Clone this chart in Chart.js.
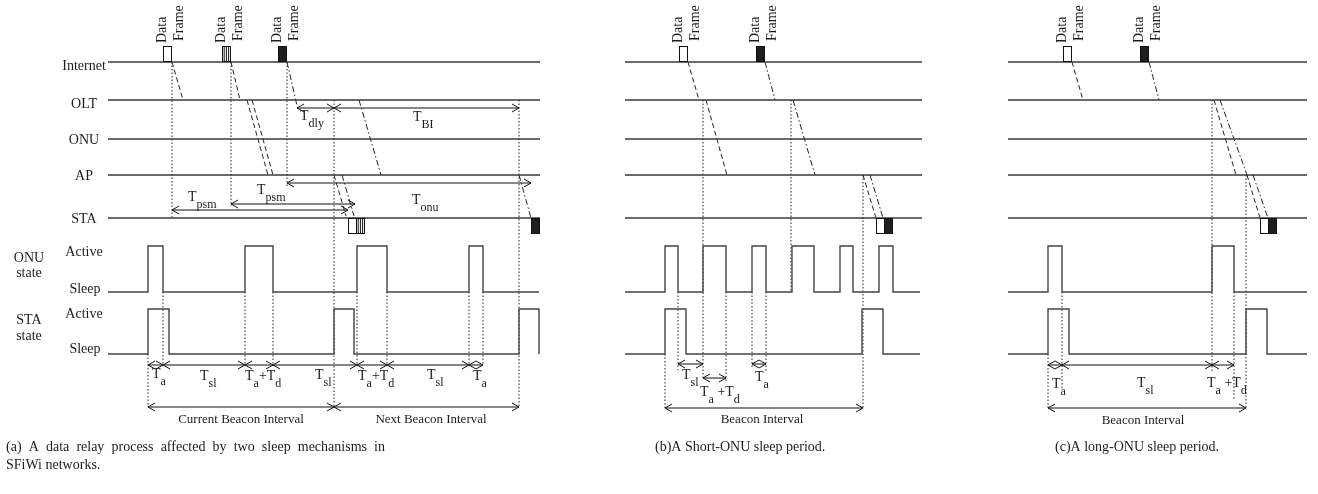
<!DOCTYPE html>
<html>
<head>
<meta charset="utf-8">
<script src="https://cdn.jsdelivr.net/npm/chart.js@4/dist/chart.umd.min.js"></script>
<style>
  html, body { margin: 0; padding: 0; background: #fff; }
  #wrap { width: 1318px; height: 494px; }
</style>
</head>
<body>
<div id="wrap"><canvas id="diagram" width="1318" height="494"></canvas></div>
<script>
// time axis runs left to right, levels top to bottom (same units as the figure)
const laneNames = ['Internet', 'OLT', 'ONU', 'AP', 'STA'];
const laneY = [62, 100, 139, 175, 218];
const laneLabelY = [66, 104, 140, 176, 219];
const laneSpans = [[108, 540], [625, 922], [1008, 1307]];

// state levels: [sleep, active]
const onuLevel = [292, 246];
const staLevel = [354, 309];
const stateSpans = [[108, 539], [625, 920], [1008, 1307]];

// active periods [start, end]
const onuPulsesA = [[148, 163], [245, 273], [357, 387], [469, 483]];
const staPulsesA = [[148, 169], [334, 354], [519, 539]];
const onuPulsesB = [[665, 678], [703, 726], [752, 766], [792, 814], [840, 853], [879, 893]];
const staPulsesB = [[665, 686], [862, 883]];
const onuPulsesC = [[1048, 1062], [1212, 1234]];
const staPulsesC = [[1048, 1069], [1246, 1267]];

// data frames [start, top, kind]
const frames = [
    [163, 46, 'open'], [222, 46, 'striped'], [278, 46, 'solid'],
    [348, 218, 'open'], [356, 218, 'striped'], [531, 218, 'solid'],
    [679, 46, 'open'], [756, 46, 'solid'], [876, 218, 'open'], [884, 218, 'solid'],
    [1063, 46, 'open'], [1140, 46, 'solid'], [1260, 218, 'open'], [1268, 218, 'solid']
];

// frame propagation [t1, y1, t2, y2, style]
const hops = [
    [172, 62, 183, 100, 'dash'], [231, 62, 240, 100, 'dash'],
    [247, 100, 268, 175, 'dash'], [252, 100, 273, 175, 'dash'],
    [287, 62, 298, 110, 'dashdot'], [359, 100, 381, 175, 'dashdot'],
    [334, 175, 346, 216, 'dash'], [342, 175, 354, 216, 'dashdot'],
    [519, 175, 531, 218, 'dashdot'],
    [688, 62, 699, 100, 'dash'], [706, 100, 727, 175, 'dash'],
    [765, 62, 775, 100, 'dashdot'], [793, 100, 815, 175, 'dashdot'],
    [863, 175, 876, 218, 'dash'], [870, 175, 883, 218, 'dashdot'],
    [1072, 62, 1083, 100, 'dash'], [1149, 62, 1159, 100, 'dashdot'],
    [1214, 100, 1236, 175, 'dash'], [1220, 100, 1247, 175, 'dashdot'],
    [1247, 175, 1260, 218, 'dash'], [1253, 175, 1268, 218, 'dashdot']
];

// dotted guides [t, yTop, yBottom]
const guides = [
    [172, 62, 218], [231, 62, 206], [287, 62, 188], [334, 100, 407], [519, 100, 407],
    [148, 354, 407], [163, 292, 365], [245, 292, 365], [273, 292, 365],
    [357, 292, 365], [387, 292, 365], [469, 292, 365], [483, 292, 365],
    [703, 100, 378], [791, 100, 292], [863, 175, 408], [665, 354, 408],
    [678, 292, 370], [726, 292, 382], [752, 292, 368], [766, 292, 372],
    [1212, 100, 373], [1246, 175, 408], [1048, 354, 408], [1062, 292, 388], [1234, 292, 400]
];

// double-headed intervals [t1, t2, y]
const intervals = [
    [297, 334, 108], [334, 519, 108], [172, 348, 210], [231, 355, 204], [287, 531, 183],
    [148, 163, 365], [163, 245, 365], [245, 273, 365], [273, 357, 365],
    [357, 387, 365], [387, 469, 365], [469, 483, 365], [148, 334, 407], [334, 519, 407],
    [678, 703, 364], [703, 726, 378], [752, 766, 364], [665, 863, 408],
    [1048, 1062, 365], [1062, 1212, 365], [1212, 1234, 365], [1048, 1246, 408]
];

// interval labels [t, y, text]  ("_" starts a subscript)
const timeLabels = [
    [300, 116, 'T_dly'], [413, 117, 'T_BI'], [188, 197, 'T_psm'], [257, 190, 'T_psm'],
    [412, 200, 'T_onu'],
    [152, 374, 'T_a'], [200, 376, 'T_sl'], [245, 376, 'T_a+T_d'], [315, 375, 'T_sl'],
    [358, 376, 'T_a+T_d'], [427, 375, 'T_sl'], [473, 376, 'T_a'],
    [682, 375, 'T_sl'], [700, 392, 'T_a +T_d'], [755, 377, 'T_a'],
    [1052, 384, 'T_a'], [1137, 383, 'T_sl'], [1207, 383, 'T_a +T_d']
];

const stateLabels = [
    [29, 258, 'ONU'], [29, 273, 'state'], [84, 252, 'Active'], [85, 289, 'Sleep'],
    [29, 320, 'STA'], [29, 336, 'state'], [84, 314, 'Active'], [85, 349, 'Sleep']
];

const beaconLabels = [
    [241, 420, 'Current Beacon Interval'], [431, 420, 'Next Beacon Interval'],
    [762, 420, 'Beacon Interval'], [1143, 421, 'Beacon Interval']
];

// captions [left, y, text, justified width or 0]
const captions = [
    [6, 447, '(a) A data relay process affected by two sleep mechanisms in', 379],
    [6, 465, 'SFiWi networks.', 0],
    [655, 447, '(b)A Short-ONU sleep period.', 0],
    [1055, 447, '(c)A long-ONU sleep period.', 0]
];

const serif = '"Liberation Serif", "Times New Roman", serif';
const ink = '#1c1c1c';
const dashes = { dash: [5, 3], dashdot: [6, 2.5, 1.5, 2.5], dot: [1.5, 2] };

function line(points, color, width, dash) {
    return {
        data: points,
        showLine: true,
        borderColor: color,
        borderWidth: width,
        borderDash: dash || [],
        pointRadius: 0,
        fill: false
    };
}

function stepPoints(span, pulses, level) {
    const [lo, hi] = level;
    const pts = [{ x: span[0], y: lo }];
    pulses.forEach(([s, e]) => {
        pts.push({ x: s, y: lo }, { x: s, y: hi }, { x: e, y: hi }, { x: e, y: lo });
    });
    pts.push({ x: span[1], y: lo });
    return pts;
}

const datasets = [];
laneSpans.forEach(span => {
    laneY.forEach(yv => datasets.push(line([{ x: span[0], y: yv }, { x: span[1], y: yv }], '#3a3a3a', 1.3)));
});
[[onuPulsesA, staPulsesA], [onuPulsesB, staPulsesB], [onuPulsesC, staPulsesC]].forEach(([onu, sta], i) => {
    datasets.push(line(stepPoints(stateSpans[i], onu, onuLevel), '#444', 1.4));
    datasets.push(line(stepPoints(stateSpans[i], sta, staLevel), '#444', 1.4));
});
guides.forEach(([t, a, b]) => datasets.push(line([{ x: t, y: a }, { x: t, y: b }], '#222', 1, dashes.dot)));
hops.forEach(([t1, y1, t2, y2, s]) => datasets.push(line([{ x: t1, y: y1 }, { x: t2, y: y2 }], '#222', 1, dashes[s])));
intervals.forEach(([t1, t2, yv]) => datasets.push(line([{ x: t1, y: yv }, { x: t2, y: yv }], '#111', 1)));

function drawRich(ctx, text, x, y, size, subSize, drop) {
    const parts = text.split(/_([A-Za-z]+)/);
    let cx = x;
    parts.forEach((p, i) => {
        if (!p) return;
        const sub = i % 2 === 1;
        ctx.font = (sub ? subSize : size) + 'px ' + serif;
        ctx.fillText(p, cx, sub ? y + drop : y);
        cx += ctx.measureText(p).width;
    });
}

// spread words over a given width, like a justified paper column
function drawJustified(ctx, text, x, y, width) {
    const words = text.split(' ');
    const used = words.reduce((s, w) => s + ctx.measureText(w).width, 0);
    const gap = (width - used) / (words.length - 1);
    let cx = x;
    words.forEach(w => {
        ctx.fillText(w, cx, y);
        cx += ctx.measureText(w).width + gap;
    });
}

const diagramPlugin = {
    id: 'diagram',
    afterDatasetsDraw(chart) {
        const { ctx, scales: { x, y } } = chart;
        const px = v => x.getPixelForValue(v);
        const py = v => y.getPixelForValue(v);
        ctx.save();

        // data frames
        frames.forEach(([t, top, kind]) => {
            const l = px(t), r = px(t + 9), tp = py(top), bt = py(top + 16);
            ctx.setLineDash([]);
            ctx.lineWidth = 1;
            ctx.strokeStyle = '#111';
            ctx.fillStyle = kind === 'solid' ? '#1e1e1e' : '#fff';
            ctx.fillRect(l, tp, r - l, bt - tp);
            if (kind === 'striped') {
                ctx.beginPath();
                [2.2, 4.4, 6.6].forEach(d => { ctx.moveTo(l + d, tp); ctx.lineTo(l + d, bt); });
                ctx.stroke();
            }
            ctx.strokeRect(l + 0.5, tp + 0.5, r - l - 1, bt - tp - 1);
        });

        // arrow heads
        ctx.strokeStyle = '#111';
        ctx.lineWidth = 1;
        intervals.forEach(([t1, t2, yv]) => {
            const yy = py(yv);
            [[px(t1), 1], [px(t2), -1]].forEach(([hx, dir]) => {
                ctx.beginPath();
                ctx.moveTo(hx + dir * 7, yy - 4);
                ctx.lineTo(hx, yy);
                ctx.lineTo(hx + dir * 7, yy + 4);
                ctx.stroke();
            });
        });

        ctx.fillStyle = ink;
        ctx.textBaseline = 'middle';

        // lane names
        ctx.textAlign = 'center';
        ctx.font = '14px ' + serif;
        laneNames.forEach((n, i) => ctx.fillText(n, px(84), py(laneLabelY[i])));
        stateLabels.forEach(([t, yv, s]) => ctx.fillText(s, px(t), py(yv)));

        // "Data Frame" tags over incoming frames
        frames.filter(f => f[1] < laneY[0]).forEach(([t]) => {
            [['Data', -1, 43], ['Frame', 16.5, 41]].forEach(([w, dx, yv]) => {
                ctx.save();
                ctx.translate(px(t + dx), py(yv));
                ctx.rotate(-Math.PI / 2);
                ctx.textAlign = 'left';
                ctx.fillText(w, 0, 0);
                ctx.restore();
            });
        });

        // interval names
        ctx.textAlign = 'left';
        timeLabels.forEach(([t, yv, s]) => drawRich(ctx, s, px(t), py(yv), 14, 12, 8));

        ctx.textAlign = 'center';
        ctx.font = '13px ' + serif;
        beaconLabels.forEach(([t, yv, s]) => ctx.fillText(s, px(t), py(yv)));

        ctx.textAlign = 'left';
        ctx.font = '14px ' + serif;
        captions.forEach(([t, yv, s, w]) => {
            if (w) drawJustified(ctx, s, px(t), py(yv), w);
            else ctx.fillText(s, px(t), py(yv));
        });

        ctx.restore();
    }
};

new Chart(document.getElementById('diagram').getContext('2d'), {
    type: 'scatter',
    data: { datasets: datasets },
    options: {
        responsive: false,
        animation: false,
        devicePixelRatio: 1,
        layout: { padding: 0 },
        plugins: { legend: { display: false }, tooltip: { enabled: false } },
        scales: {
            x: { type: 'linear', min: 0, max: 1318, display: false },
            y: { type: 'linear', min: 0, max: 494, reverse: true, display: false }
        }
    },
    plugins: [diagramPlugin]
});
</script>
</body>
</html>
